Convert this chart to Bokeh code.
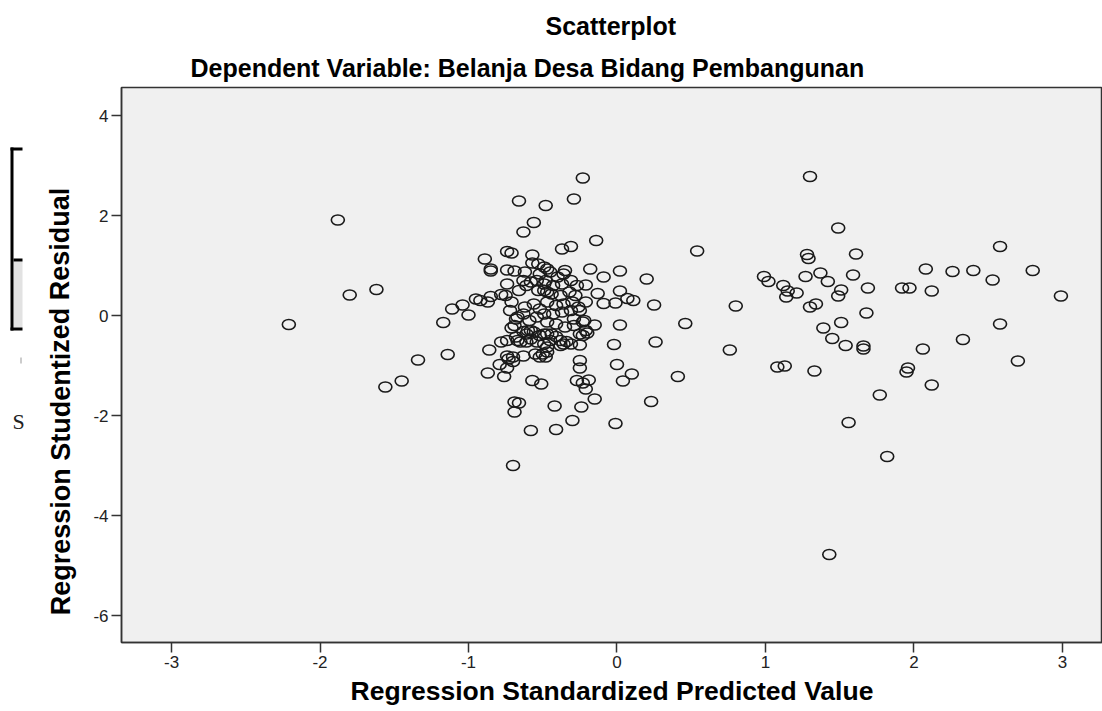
import math
from bokeh.plotting import figure
from bokeh.models import ColumnDataSource, Range1d, Title, FixedTicker
from bokeh.layouts import row
from bokeh.embed import file_html
from bokeh.resources import INLINE
from bokeh.core.properties import value

# ---- data ----
pred = [
    -1.88, -1.80, -1.62, -2.21, -1.56, -1.45, -1.34, -1.14, -1.17, -1.11, -1.04, -1.00,
    -0.95, -0.92, -0.87, -0.85, -0.89, -0.85, -0.85, -0.86, -0.87,
    -0.23, -0.66, -0.48, -0.29, -0.56, -0.63, -0.14, -0.37, -0.31, 0.54, -0.74, -0.71,
    -0.57, -0.57, -0.53, -0.74, -0.69, -0.62, -0.52, -0.47, -0.35, -0.18, 0.02, -0.09,
    0.20, -0.21, 0.02, -0.13, 0.07, 0.11, -0.01, -0.09, 0.25, 0.46, 0.02, -0.15, 0.26,
    -0.02, 0.00, 0.10, 0.04, 0.41, 0.23, -0.01, -0.15, -0.24, -0.30, -0.41, -0.58, -0.42,
    -0.69, -0.66, -0.69, -0.57, -0.51, -0.27, -0.23, -0.19, -0.21, -0.25, -0.25, -0.76,
    -0.74, -0.79, -0.78, -0.70, -0.63, -0.70, -0.52, -0.48, -0.50, -0.47, -0.25, -0.36,
    -0.34, -0.38, -0.45, -0.41, -0.47, -0.61, -0.58, -0.61, -0.58, -0.63, -0.67, -0.71,
    -0.68, -0.23, -0.20, -0.23, -0.70, -0.73, -0.74,
    -0.63, -0.58, -0.61, -0.54, -0.49, -0.53, -0.47, -0.74, -0.66, -0.75, -0.78, -0.71,
    -0.72, -0.67, -0.69, -0.63, -0.59, -0.62, -0.56, -0.52, -0.54, -0.49, -0.47, -0.49,
    -0.45, -0.40, -0.36, -0.48, -0.43, -0.37, -0.31, -0.27, -0.49, -0.44, -0.38, -0.32,
    -0.28, -0.47, -0.41, -0.36, -0.30, -0.26, -0.43, -0.37, -0.31, -0.41, -0.35, -0.29,
    -0.22, -0.21, -0.25, -0.68, -0.65, -0.60, -0.56, -0.52, -0.54, -0.49, -0.55, -0.74,
    -0.49, -0.44, -0.31, -0.38, -0.25, -0.21, -0.29, -0.47,
    1.30, 1.49, 2.58, 1.61, 1.28, 1.29, 2.08, 2.26, 2.40, 2.80, 2.53, 2.99, 0.99, 1.02,
    1.27, 1.37, 1.42, 1.59, 1.12, 1.15, 1.21, 1.14, 1.51, 1.49, 1.69, 1.92, 1.97, 2.12,
    0.80, 1.34, 1.30, 1.68, 2.58, 1.51, 1.39, 1.45, 1.54, 1.66, 1.66, 2.06, 2.33, 2.70,
    0.76, 1.08, 1.13, 1.33, 1.96, 1.95, 2.12, 1.77, 1.56, 1.82, 1.43,
]
resid = [
    1.91, 0.41, 0.52, -0.18, -1.43, -1.31, -0.89, -0.78, -0.14, 0.13, 0.21, 0.01,
    0.33, 0.30, 0.27, 0.38, 1.13, 0.93, 0.89, -0.69, -1.15,
    2.75, 2.29, 2.20, 2.33, 1.86, 1.67, 1.50, 1.33, 1.38, 1.29, 1.28, 1.25,
    1.21, 1.05, 1.03, 0.91, 0.89, 0.87, 0.83, 0.93, 0.90, 0.93, 0.89, 0.77,
    0.73, 0.61, 0.49, 0.44, 0.34, 0.30, 0.25, 0.24, 0.21, -0.16, -0.19, -0.19, -0.53,
    -0.58, -0.98, -1.17, -1.31, -1.22, -1.72, -2.16, -1.67, -1.83, -2.10, -2.28, -2.30, -1.81,
    -1.73, -1.75, -1.93, -1.30, -1.37, -1.30, -1.35, -1.29, -1.47, -0.90, -1.05, -1.22,
    -1.05, -0.98, -0.53, -0.83, -0.81, -0.92, -0.83, -0.83, -0.77, -0.73, -0.59, -0.57,
    -0.52, -0.50, -0.50, -0.42, -0.37, -0.53, -0.47, -0.37, -0.30, -0.32, -0.50, -0.25,
    -0.07, -0.13, -0.35, -0.40, -3.00, -0.87, -0.81,
    0.70, 0.67, 0.60, 0.70, 0.63, 0.50, 0.47, 0.63, 0.50, 0.40, 0.42, 0.27,
    0.10, -0.03, -0.20, 0.03, -0.10, 0.17, 0.23, 0.13, -0.03, 0.03, -0.13, 0.97,
    0.87, 0.77, 0.83, 0.70, 0.60, 0.63, 0.70, 0.60, 0.50, 0.43, 0.40, 0.47,
    0.40, 0.27, 0.20, 0.23, 0.27, 0.17, 0.03, 0.07, 0.10, -0.17, -0.23, -0.07,
    -0.10, 0.27, 0.10, -0.43, -0.53, -0.30, -0.33, -0.40, -0.53, -0.57, -0.77, -0.50,
    -0.37, -0.37, -0.57, -0.60, -0.37, -0.30, -0.20, -0.63,
    2.78, 1.75, 1.38, 1.23, 1.22, 1.14, 0.93, 0.88, 0.90, 0.90, 0.71, 0.39, 0.78, 0.68,
    0.78, 0.85, 0.68, 0.81, 0.60, 0.49, 0.45, 0.37, 0.51, 0.39, 0.55, 0.55, 0.55, 0.49,
    0.19, 0.23, 0.17, 0.05, -0.17, -0.14, -0.25, -0.46, -0.60, -0.61, -0.67, -0.67, -0.48, -0.91,
    -0.69, -1.03, -1.01, -1.11, -1.05, -1.13, -1.39, -1.59, -2.14, -2.82, -4.78,
]
x_ticks = [-3, -2, -1, 0, 1, 2, 3]
y_ticks = [4, 2, 0, -2, -4, -6]
title_text = "Scatterplot"
subtitle_text = "Dependent Variable: Belanja Desa Bidang Pembangunan"
x_label = "Regression Standardized Predicted Value"
y_label = "Regression Studentized Residual"

FONT = "Liberation Sans"
INK = "#1a1a1a"
H = 711
FRAME_TOP, FRAME_BOTTOM = 87, 642

src = ColumnDataSource(data=dict(x=pred, y=resid))

p = figure(width=1022, height=H,
           x_range=Range1d(-3.337, 3.27), y_range=Range1d(-6.54, 4.56),
           output_backend="svg", toolbar_location=None, title=None,
           min_border_left=41, min_border_right=0,
           min_border_top=FRAME_TOP, min_border_bottom=H - FRAME_BOTTOM)
p.background_fill_color = "#F0F0F0"
p.border_fill_color = "white"
p.outline_line_color = "#333333"
p.outline_line_width = 1.5
p.grid.visible = False

p.ellipse(x="x", y="y", width=13, height=10, width_units="screen", height_units="screen",
          source=src, fill_color=None, line_color=INK, line_width=1.6)

for ax in (p.xaxis[0], p.yaxis[0]):
    ax.axis_line_color = "#333333"
    ax.axis_line_width = 1.5
    ax.major_tick_line_color = "#333333"
    ax.major_tick_line_width = 1.5
    ax.major_tick_in = 0
    ax.major_tick_out = 10
    ax.minor_tick_line_color = None
    ax.major_label_text_font = FONT
    ax.major_label_text_font_size = "17px"
    ax.major_label_text_color = "#222222"
    ax.major_label_standoff = 3
    ax.axis_label_text_font = FONT
    ax.axis_label_text_font_style = "bold"
    ax.axis_label_text_color = "black"

p.xaxis.ticker = FixedTicker(ticks=x_ticks)
p.yaxis.ticker = FixedTicker(ticks=y_ticks)
p.xaxis.major_label_overrides = {t: str(t) for t in x_ticks}
p.yaxis.major_label_overrides = {t: str(t) for t in y_ticks}
p.xaxis.axis_label = x_label
p.xaxis.axis_label_text_font_size = "26.5px"
p.xaxis.axis_label_standoff = 5

sub = Title(text=subtitle_text, align="left", offset=69, text_font=FONT,
            text_font_size="25px", text_font_style="bold", text_color="black", standoff=11)
p.add_layout(sub, "above")
main = Title(text=title_text, align="left", offset=424, text_font=FONT,
             text_font_size="25px", text_font_style="bold", text_color="black", standoff=14)
p.add_layout(main, "above")

# ---- left strip: vertical axis title and remnants of the source document ----
# (its frame is aligned with the main frame by the row layout, so map that span 1:1 to page px)
lf = figure(width=80, height=H, x_range=Range1d(0, 80), y_range=Range1d(FRAME_BOTTOM, FRAME_TOP),
            output_backend="svg", toolbar_location=None, x_axis_type=None, y_axis_type=None,
            min_border=0, min_border_left=0, min_border_right=0,
            min_border_top=FRAME_TOP, min_border_bottom=H - FRAME_BOTTOM, outline_line_color=None)
lf.background_fill_color = "white"
lf.border_fill_color = "white"
lf.quad(left=[13], right=[22], top=[261], bottom=[327], fill_color="#E2E2E2", line_color=None)
lf.segment(x0=[11.5, 10, 13, 10], y0=[147, 148.5, 259.5, 328.5],
           x1=[11.5, 22, 22, 22], y1=[330, 148.5, 259.5, 328.5],
           line_color="black", line_width=3)
lf.segment(x0=[20.5], y0=[357], x1=[20.5], y1=[363], line_color="#999999", line_width=1)
lf.text(x=[18], y=[421], text=["S"], text_font=value("Liberation Serif"), text_font_size="22px",
        text_align="center", text_baseline="middle", text_color="#222222")
lf.text(x=[60], y=[401], text=[y_label], angle=[math.pi / 2], text_font=value(FONT),
        text_font_size="27px", text_font_style="bold", text_align="center",
        text_baseline="middle", text_color="black")

layout = row(lf, p)
open("out.html", "w").write(file_html(layout, INLINE))
